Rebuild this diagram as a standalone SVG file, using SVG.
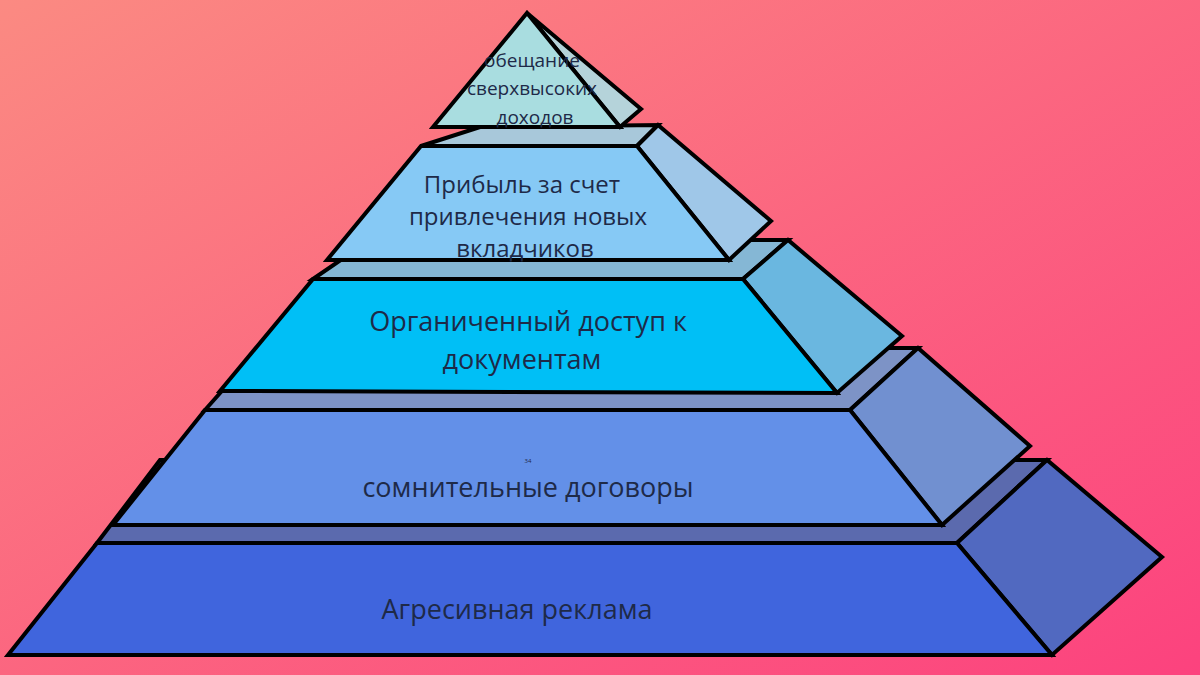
<svg xmlns="http://www.w3.org/2000/svg" width="1200" height="675" viewBox="0 0 1200 675">
<defs>
<linearGradient id="bg" x1="0" y1="0" x2="1" y2="1">
<stop offset="0" stop-color="#fb8a82"/>
<stop offset="1" stop-color="#fc427e"/>
</linearGradient>
</defs>
<style>
polygon{stroke:#000;stroke-width:4;stroke-linejoin:miter}
text{font-family:"Open Sans","Liberation Sans",sans-serif;fill:#1e2a48;text-anchor:middle}
</style>
<rect width="1200" height="675" fill="url(#bg)"/>
<g id="level5">
<polygon points="97,543 160,460 1047,460 957,543" fill="#5b6aae"/>
<polygon points="957,543 1047,460 1162,557 1052,655" fill="#5169c0"/>
<polygon points="97,543 957,543 1052,655 8,655" fill="#4065dd"/>
<text x="517" y="619" font-size="27">Агресивная реклама</text>
</g>
<g id="level4">
<polygon points="205,410 260,348 918,348 850,410" fill="#7d93c6"/>
<polygon points="850,410 918,348 1030,446 942,525" fill="#7190d0"/>
<polygon points="205,410 850,410 942,525 113,525" fill="#6390e8"/>
<text x="528" y="463" font-size="6">34</text>
<text x="528" y="497" font-size="27">сомнительные договоры</text>
</g>
<g id="level3">
<polygon points="313,279 370,240 788,240 743,279" fill="#85b7d5"/>
<polygon points="743,279 788,240 902,336 837,393" fill="#6ab7e0"/>
<polygon points="313,279 743,279 837,393 220,391" fill="#00bff6"/>
<text x="528" y="331" font-size="27">Органиченный доступ к</text>
<text x="522" y="369" font-size="27">документам</text>
</g>
<g id="level2">
<polygon points="421,146 480,127 658,125 637,146" fill="#a8c8da"/>
<polygon points="637,146 658,125 771,221 729,260" fill="#9fc7e8"/>
<polygon points="421,146 637,146 729,260 327,260" fill="#86c9f5"/>
<text x="522" y="193" font-size="24">Прибыль за счет</text>
<text x="528" y="225" font-size="24">привлечения новых</text>
<text x="525" y="257" font-size="24">вкладчиков</text>
</g>
<g id="level1">
<polygon points="527,13 641,109 620,127" fill="#b5d3da"/>
<polygon points="527,13 620,127 433,127" fill="#a9dde0"/>
<text x="532" y="67" font-size="19">обещание</text>
<text x="532" y="95" font-size="19">сверхвысоких</text>
<text x="535" y="124" font-size="19">доходов</text>
</g>
<g id="connectors"/>
</svg>
